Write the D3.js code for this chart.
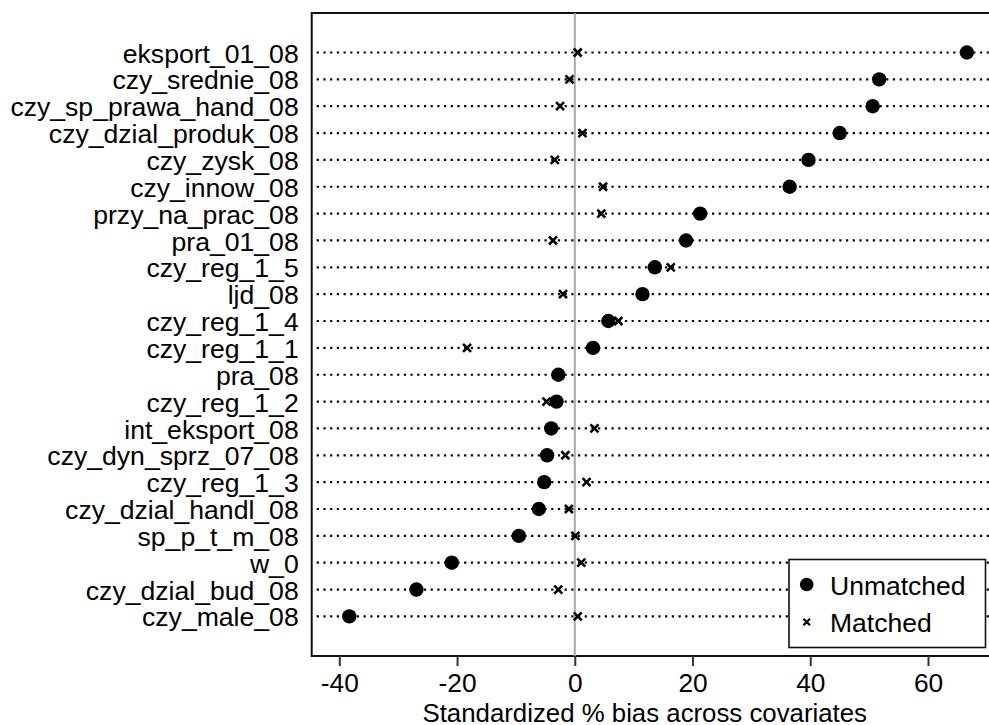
<!DOCTYPE html>
<html>
<head>
<meta charset="utf-8">
<script src="https://cdn.jsdelivr.net/npm/d3@7"></script>
<style>
  body { margin: 0; background: #ffffff; }
  svg { display: block; font-family: "Liberation Sans", Arial, Helvetica, sans-serif; }
</style>
</head>
<body>
<div id="chart"></div>
<script>
// DATA
// ----------------------------------------
const COVARIATES = [
    "eksport_01_08", "czy_srednie_08", "czy_sp_prawa_hand_08", "czy_dzial_produk_08",
    "czy_zysk_08", "czy_innow_08", "przy_na_prac_08", "pra_01_08", "czy_reg_1_5",
    "ljd_08", "czy_reg_1_4", "czy_reg_1_1", "pra_08", "czy_reg_1_2", "int_eksport_08",
    "czy_dyn_sprz_07_08", "czy_reg_1_3", "czy_dzial_handl_08", "sp_p_t_m_08", "w_0",
    "czy_dzial_bud_08", "czy_male_08"
];
const UNMATCHED = [
    66.6, 51.7, 50.6, 45.0, 39.7, 36.5, 21.3, 18.9, 13.6, 11.5, 5.7,
    3.1, -2.8, -3.1, -4.0, -4.7, -5.2, -6.1, -9.5, -20.9, -26.9, -38.3
];
const MATCHED = [
    0.5, -0.9, -2.5, 1.3, -3.4, 4.8, 4.5, -3.7, 16.3, -2.0, 7.4,
    -18.3, -2.6, -4.8, 3.35, -1.6, 2.0, -1.0, 0.1, 1.1, -2.8, 0.5
];
const X_TICKS = [-40, -20, 0, 20, 40, 60];
const X_TITLE = "Standardized % bias across covariates";
const LEGEND_LABELS = ["Unmatched", "Matched"];

// LAYOUT
// ----------------------------------------
const WIDTH = 989;
const HEIGHT = 725;
const FRAME = { left: 311.7, top: 13, right: 1005, bottom: 656 };
const FONT_SIZE = 26.3;

const svg = d3.select("#chart")
    .append("svg")
    .attr("width", WIDTH)
    .attr("height", HEIGHT);

// Scales
const x = d3.scaleLinear()
    .domain([-40, 60])
    .range([339.3, 928]);

const y = d3.scalePoint()
    .domain(COVARIATES)
    .range([52.5, 616.4]);

// Plot frame
svg.append("rect")
    .attr("x", FRAME.left)
    .attr("y", FRAME.top)
    .attr("width", FRAME.right - FRAME.left)
    .attr("height", FRAME.bottom - FRAME.top)
    .attr("fill", "none")
    .attr("stroke", "#111")
    .attr("stroke-width", 2);

// Dotted guide lines, one per covariate
svg.append("g")
    .selectAll("line")
    .data(COVARIATES)
    .join("line")
    .attr("x1", FRAME.left + 5)
    .attr("x2", FRAME.right)
    .attr("y1", d => y(d))
    .attr("y2", d => y(d))
    .attr("stroke", "#000")
    .attr("stroke-width", 2.2)
    .attr("stroke-dasharray", "2.2 4.5");

// Zero reference line
svg.append("line")
    .attr("x1", x(0))
    .attr("x2", x(0))
    .attr("y1", FRAME.top)
    .attr("y2", FRAME.bottom)
    .attr("stroke", "#a8a8a8")
    .attr("stroke-width", 2);

// X axis (plain hyphen minus, as in the original)
const xAxis = svg.append("g")
    .attr("transform", `translate(0, ${FRAME.bottom})`)
    .call(d3.axisBottom(x)
        .tickValues(X_TICKS)
        .tickFormat(d => String(d))
        .tickSize(10)
        .tickPadding(7));
xAxis.select(".domain").remove();
xAxis.selectAll(".tick line").attr("stroke", "#333").attr("stroke-width", 2);
xAxis.selectAll(".tick text")
    .attr("font-size", FONT_SIZE)
    .attr("font-family", "Liberation Sans, Arial, sans-serif")
    .attr("fill", "#000");

// Y axis labels
const yAxis = svg.append("g")
    .attr("transform", `translate(${FRAME.left}, 0)`)
    .call(d3.axisLeft(y).tickSize(0).tickPadding(13));
yAxis.select(".domain").remove();
yAxis.selectAll(".tick text")
    .attr("font-size", FONT_SIZE + 0.3)
    .attr("font-family", "Liberation Sans, Arial, sans-serif")
    .attr("fill", "#000")
    .attr("dy", "0.36em");

// Axis title
svg.append("text")
    .attr("x", 422.5)
    .attr("y", 721.5)
    .attr("font-size", FONT_SIZE - 0.5)
    .attr("fill", "#000")
    .text(X_TITLE);

// Markers: matched first, unmatched on top
const crossPath = s => `M${-s},${-s}L${s},${s}M${-s},${s}L${s},${-s}`;

svg.append("g")
    .selectAll("path")
    .data(MATCHED)
    .join("path")
    .attr("transform", (d, i) => `translate(${x(d)}, ${y(COVARIATES[i])})`)
    .attr("d", crossPath(4))
    .attr("stroke", "#000")
    .attr("stroke-width", 2.6)
    .attr("fill", "none");

svg.append("g")
    .selectAll("circle")
    .data(UNMATCHED)
    .join("circle")
    .attr("cx", d => x(d))
    .attr("cy", (d, i) => y(COVARIATES[i]))
    .attr("r", 7.2)
    .attr("fill", "#000");

// Legend
const legend = svg.append("g");
legend.append("rect")
    .attr("x", 789)
    .attr("y", 559.5)
    .attr("width", 196.5)
    .attr("height", 88)
    .attr("fill", "#fff")
    .attr("stroke", "#111")
    .attr("stroke-width", 1.6);

legend.append("circle")
    .attr("cx", 806.7)
    .attr("cy", 584.5)
    .attr("r", 6.8)
    .attr("fill", "#000");

legend.append("path")
    .attr("transform", "translate(806.7, 622)")
    .attr("d", crossPath(3.3))
    .attr("stroke", "#000")
    .attr("stroke-width", 2.2);

legend.selectAll("text")
    .data(LEGEND_LABELS)
    .join("text")
    .attr("x", 830)
    .attr("y", (d, i) => 595 + i * 36.7)
    .attr("font-size", FONT_SIZE + 0.2)
    .attr("fill", "#000")
    .text(d => d);
</script>
</body>
</html>
